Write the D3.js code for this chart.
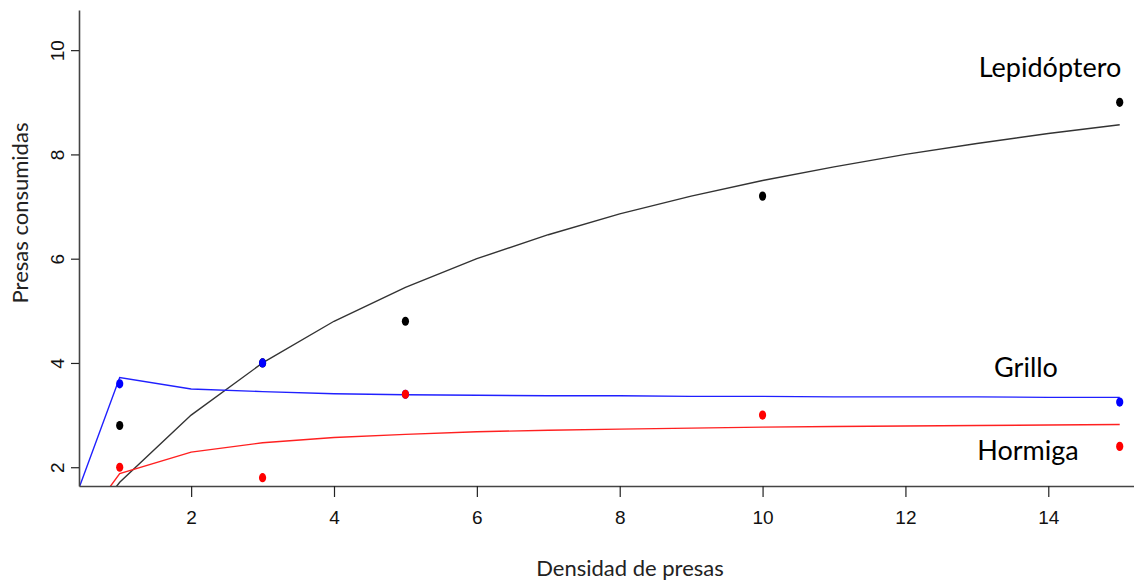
<!DOCTYPE html>
<html>
<head>
<meta charset="utf-8">
<script src="https://cdn.jsdelivr.net/npm/d3@7"></script>
<style>
  body { margin: 0; background: #fff; }
  svg { display: block; }
</style>
</head>
<body>
<svg></svg>
<script>
var width = 1134;
var height = 581;

// observed means per prey density
var densities = [1, 3, 5, 10, 15];
var lepidoptero = [2.8, 4.0, 4.8, 7.2, 9.0];
var grilloX = [1, 3, 5, 15];
var grillo = [3.6, 4.0, 3.4, 3.25];
var hormiga = [2.0, 1.8, 3.4, 3.0, 2.4];

// fitted curves, read at each integer density
var curveX = [0, 1, 2, 3, 4, 5, 6, 7, 8, 9, 10, 11, 12, 13, 14, 15];
var lepidopteroFit = [0, 1.71, 3.0, 4.0, 4.8, 5.45, 6.0, 6.46, 6.86, 7.2, 7.5, 7.76, 8.0, 8.21, 8.4, 8.57];
var grilloFit = [0, 3.72, 3.5, 3.45, 3.41, 3.39, 3.38, 3.37, 3.37, 3.36, 3.36, 3.35, 3.35, 3.35, 3.34, 3.34];
var hormigaFit = [0, 1.88, 2.29, 2.47, 2.57, 2.63, 2.68, 2.71, 2.73, 2.75, 2.77, 2.78, 2.79, 2.80, 2.81, 2.82];

var xTicks = [2, 4, 6, 8, 10, 12, 14];
var yTicks = [2, 4, 6, 8, 10];

var svg = d3.select('svg')
            .attr('width', width)
            .attr('height', height);

var x = d3.scaleLinear()
          .domain([0.43, 15.2])
          .range([79, 1134]);

var y = d3.scaleLinear()
          .domain([1.64, 10.77])
          .range([486, 10]);

svg.append('clipPath')
   .attr('id', 'plot')
   .append('rect')
   .attr('x', x.range()[0])
   .attr('y', y.range()[1])
   .attr('width', x.range()[1] - x.range()[0])
   .attr('height', y.range()[0] - y.range()[1]);

var line = d3.line()
             .x(d => x(d[0]))
             .y(d => y(d[1]));

var series = [
  {fit: lepidopteroFit, color: '#333333'},
  {fit: grilloFit, color: '#2020ff'},
  {fit: hormigaFit, color: '#ff2020'}
];

svg.append('g')
   .attr('clip-path', 'url(#plot)')
   .selectAll('path')
   .data(series)
   .enter()
   .append('path')
   .attr('d', s => line(d3.zip(curveX, s.fit)))
   .attr('fill', 'none')
   .attr('stroke', s => s.color)
   .attr('stroke-width', 1.4);

// axes
var xAxis = svg.append('g')
               .attr('transform', 'translate(0,' + y.range()[0] + ')')
               .call(d3.axisBottom(x).tickValues(xTicks).tickSize(11).tickSizeOuter(0).tickFormat(d3.format('d')));

var yAxis = svg.append('g')
               .attr('transform', 'translate(' + x.range()[0] + ',0)')
               .call(d3.axisLeft(y).tickValues(yTicks).tickSize(8).tickSizeOuter(0).tickFormat(d3.format('d')));

[xAxis, yAxis].forEach(function(a) {
  a.select('.domain').attr('stroke', '#444').attr('stroke-width', 1.6);
  a.selectAll('.tick line').attr('stroke', '#222').attr('stroke-width', 1.2);
  a.selectAll('.tick text')
   .attr('fill', '#111')
   .style('font-family', '"Liberation Sans", Arial, sans-serif')
   .style('font-size', '19px');
});

xAxis.selectAll('.tick text').attr('y', 25);
yAxis.selectAll('.tick text')
     .attr('x', null)
     .attr('dy', null)
     .attr('text-anchor', 'middle')
     .attr('transform', 'translate(-22,0) rotate(-90) translate(0,-7) ')
     .attr('dominant-baseline', 'hanging');

// points
var pts = svg.append('g');

function dots(xs, ys, color) {
  pts.append('g')
     .selectAll('ellipse')
     .data(d3.zip(xs, ys))
     .enter()
     .append('ellipse')
     .attr('cx', d => x(d[0]))
     .attr('cy', d => y(d[1]))
     .attr('rx', 3.6)
     .attr('ry', 4.6)
     .attr('fill', color);
}

dots(densities, lepidoptero, '#000');
dots(grilloX, grillo, '#0000ff');
dots(densities, hormiga, '#ff0000');

// series labels
var labelFont = 'Lato, "Open Sans", sans-serif';
var labels = [
  {text: 'Lepidóptero', x: 1050, y: 77},
  {text: 'Grillo', x: 1026, y: 377},
  {text: 'Hormiga', x: 1028, y: 460}
];

svg.append('g')
   .selectAll('text')
   .data(labels)
   .enter()
   .append('text')
   .attr('x', d => d.x)
   .attr('y', d => d.y)
   .attr('text-anchor', 'middle')
   .style('font-family', labelFont)
   .style('font-size', '27px')
   .attr('fill', '#000')
   .text(d => d.text);

// axis titles
svg.append('text')
   .attr('x', 630)
   .attr('y', 576)
   .attr('text-anchor', 'middle')
   .style('font-family', labelFont)
   .style('font-size', '22px')
   .attr('fill', '#222')
   .text('Densidad de presas');

svg.append('text')
   .attr('transform', 'translate(28,213) rotate(-90)')
   .attr('text-anchor', 'middle')
   .style('font-family', labelFont)
   .style('font-size', '22px')
   .attr('fill', '#222')
   .text('Presas consumidas');
</script>
</body>
</html>
